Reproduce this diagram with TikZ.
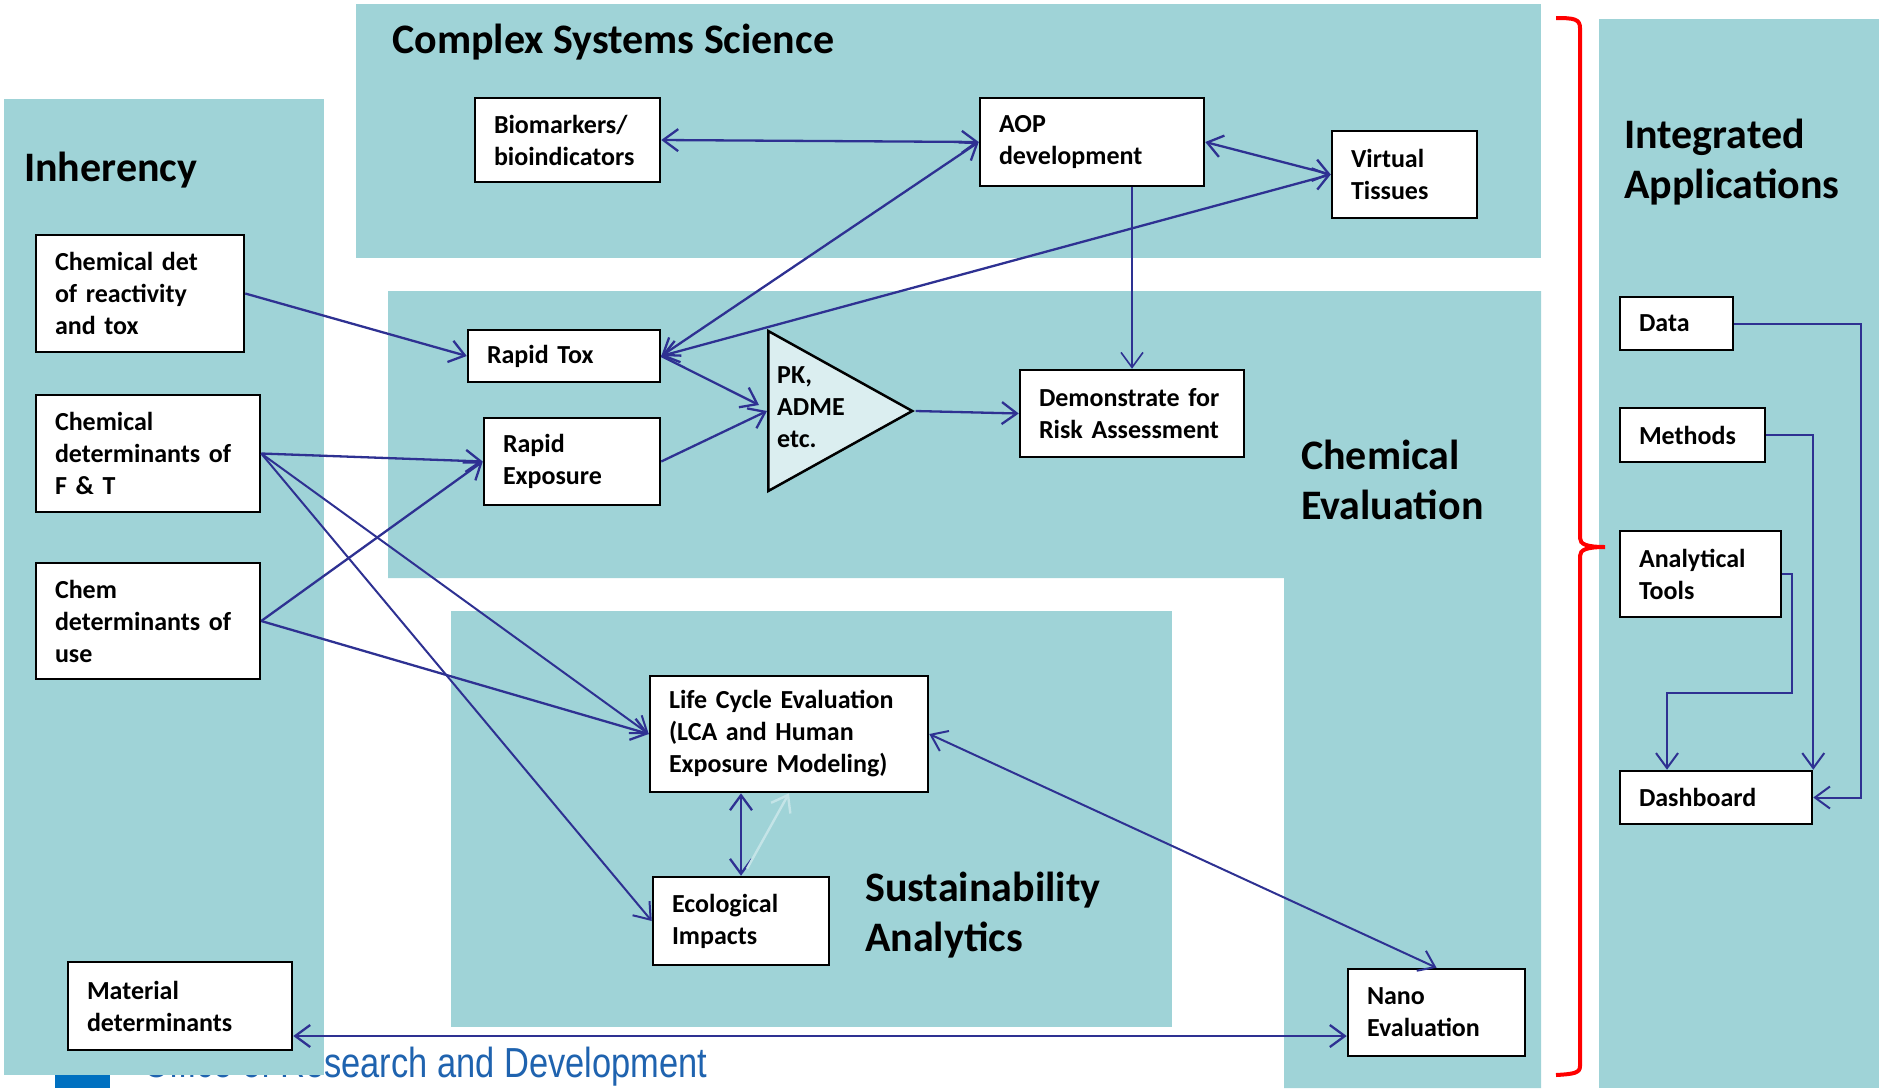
\documentclass[tikz,border=0pt]{standalone}
\usepackage{fontspec}
\setmainfont{Carlito}
\newfontfamily\footfont[FakeStretch=0.82]{Liberation Sans}
\usetikzlibrary{arrows.meta,shapes.geometric}

\definecolor{panel}{RGB}{159,211,215}
\definecolor{linkblue}{RGB}{46,49,146}
\definecolor{footblue}{RGB}{31,99,175}
\definecolor{logoblue}{RGB}{0,112,192}
\definecolor{pkfill}{RGB}{219,238,240}
\definecolor{faint}{RGB}{196,228,231}

\begin{document}
\begin{tikzpicture}[x=1pt,y=-1pt,
    >={Straight Barb[length=15pt,width=22pt]}]

  \useasboundingbox (0,0) rectangle (1879,1088);

  % footer line, mostly under the panels
  \fill[logoblue] (55,1075) rectangle (110,1088);
  \node[anchor=base west, inner sep=0, text=footblue,
        font=\footfont\fontsize{42}{50}\selectfont] (office) at (143,1077)
        {Office of Research and Development};

  % background panels
  \fill[panel] (356,4) rectangle (1541,258);
  \fill[panel] (388,291) -- (1541,291) -- (1541,1088) -- (1284,1088)
               -- (1284,578) -- (388,578) -- cycle;
  \fill[panel] (451,611) rectangle (1172,1027);
  \fill[panel] (4,99) rectangle (324,1075);
  \fill[panel] (1599,19) rectangle (1879,1088);

  % panel titles (base = last line)
  \begin{scope}[every node/.style={anchor=base west, align=left, inner sep=0,
                font=\bfseries\fontsize{42}{50}\selectfont}]
    \node (tcss)  at (392,53)   {Complex Systems Science};
    \node (tinh)  at (24,181)   {Inherency};
    \node (tint)  at (1624,198) {Integrated\\Applications};
    \node (tchem) at (1301,519) {Chemical\\Evaluation};
    \node (tsust) at (865,951)  {Sustainability\\Analytics};
  \end{scope}

  % brace round the three areas
  \draw[red, line width=4pt] (1556,18) .. controls (1574,18) and (1580,19) .. (1580,28)
    -- (1580,538) .. controls (1580,544) and (1586,547) .. (1605,547)
    .. controls (1586,547) and (1580,550) .. (1580,556)
    -- (1580,1066) .. controls (1580,1073) and (1574,1074) .. (1556,1075);

  \begin{scope}[every node/.style={draw, line width=2.5pt, fill=white,
                align=left, inner xsep=19pt, inner ysep=0pt,
                font=\bfseries\fontsize{26}{32}\selectfont}]
    \node[text width=147, minimum height=84]  (bio)  at (567.5,140)   {Biomarkers/\\bioindicators};
    \node[text width=186, minimum height=88]  (aop)  at (1092,142)    {AOP\\development};
    \node[text width=107, minimum height=87]  (vt)   at (1404.5,174.5) {Virtual\\Tissues};
    \node[text width=154, minimum height=52]  (rtox) at (564,356)     {Rapid Tox};
    \node[text width=138, minimum height=87]  (rexp) at (572,461.5)   {Rapid\\Exposure};
    \node[text width=186, minimum height=87]  (demo) at (1132,413.5)  {Demonstrate for\\Risk Assessment};
    \node[text width=170, minimum height=117] (cdr)  at (140,293.5)   {Chemical det\\of reactivity\\and tox};
    \node[text width=186, minimum height=117] (cft)  at (148,453.5)   {Chemical\\determinants of\\F \& T};
    \node[text width=186, minimum height=116] (cuse) at (148,621)     {Chem\\determinants of\\use};
    \node[text width=186, minimum height=88]  (mat)  at (180,1006)    {Material\\determinants};
    \node[text width=240, minimum height=116] (lce)  at (789,734)     {Life Cycle Evaluation\\(LCA and Human\\Exposure Modeling)};
    \node[text width=138, minimum height=88]  (eco)  at (741,921)     {Ecological\\Impacts};
    \node[text width=139, minimum height=87]  (nano) at (1436.5,1012.5) {Nano\\Evaluation};
    \node[text width=75,  minimum height=53]  (data) at (1676.5,323.5) {Data};
    \node[text width=107, minimum height=54]  (meth) at (1692.5,435)  {Methods};
    \node[text width=123, minimum height=86]  (anal) at (1700.5,574)  {Analytical\\Tools};
    \node[text width=154, minimum height=53]  (dash) at (1716,797.5)  {Dashboard};
  \end{scope}

  % PK / ADME stage
  \node[isosceles triangle, isosceles triangle stretches, draw, line width=2.5pt,
        fill=pkfill, minimum width=160, minimum height=144, inner sep=0,
        anchor=west] (pk) at (767,411) {};
  \node[anchor=west, align=left, inner sep=0,
        font=\bfseries\fontsize{26}{32}\selectfont] (pktext) at (777,407) {PK,\\ADME\\etc.};

  \coordinate (matport) at ([yshift=-30pt]mat.east);

  \begin{scope}[every edge/.style={draw=linkblue, line width=2.3pt}]
    \path (bio.east)  edge[<->] (aop.west);
    \path (aop.east)  edge[<->] (vt.west);
    \path (rtox.east) edge[<->] (aop.west);
    \path (rtox.east) edge[<->] (vt.west);
    \path (cdr.east)  edge[->]  (rtox.west);
    \path (rtox.east) edge[->]  ([xshift=-8pt,yshift=6pt]pk.west);
    \path (rexp.east) edge[->]  (pk.west);
    \path (pk.east)   edge[->]  (demo.west);
    \path (aop.south -| demo.north) edge[->, line width=1.6pt] (demo.north);
    \path (cft.east)  edge[->]  (rexp.west);
    \path (cft.east)  edge[->, line width=2pt] (lce.west);
    \path (cft.east)  edge[->, line width=2pt] (eco.west);
    \path (cuse.east) edge[->]  (rexp.west);
    \path (cuse.east) edge[->]  (lce.west);
    \path (eco.north) edge[<->] (eco.north |- lce.south);
    \path ([xshift=6pt,yshift=7pt]eco.north) edge[->, draw=faint, line width=2.4pt] (lce.south);
    \path (lce.east)  edge[<->, line width=2pt] (nano.north);
    \path (matport)   edge[<->] (matport -| nano.west);
  \end{scope}

  % feeds into the dashboard
  \begin{scope}[every path/.style={draw=linkblue, line width=2pt}]
    \draw[->] (data.east) -- ++(127,0) |- (dash.east);
    \draw[->] (meth.east) -| (dash.north east);
    \draw[->] (anal.east) -- ++(10,0) -- ++(0,119) -| ([xshift=-49pt]dash.north);
  \end{scope}

\end{tikzpicture}
\end{document}
